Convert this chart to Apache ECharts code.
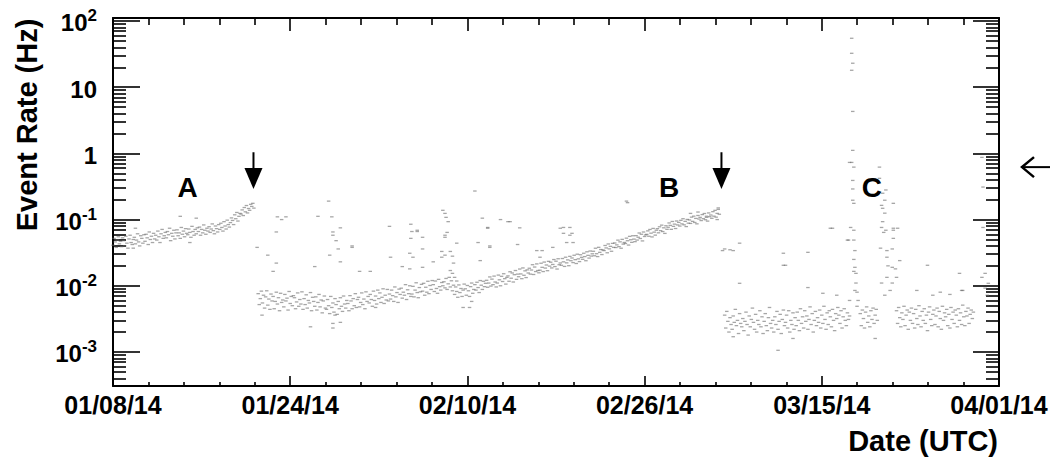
<!DOCTYPE html>
<html>
<head>
<meta charset="utf-8">
<script src="https://cdn.jsdelivr.net/npm/echarts@6/dist/echarts.min.js"></script>
<style>
html, body { margin: 0; padding: 0; background: #fff; }
#chart { width: 1053px; height: 457px; }
</style>
</head>
<body>
<div id="chart"></div>
<script>
// Detector event rate, 8 Jan - 1 Apr 2014. x = days since 2014-01-08 00:00 UTC.
const xTickLabels = ['01/08/14', '01/24/14', '02/10/14', '02/26/14', '03/15/14', '04/01/14'];
const xTickStepDays = 16.6;
const xSpanDays = 83;

const yTickValues = [1e-3, 1e-2, 1e-1, 1, 10, 100];
const yTickLabels = [['10', '-3'], ['10', '-2'], ['10', '-1'], ['1', ''], ['10', ''], ['10', '2']];

// Rates in mHz, one reading every 0.1 day, starting at the given day.
const binDays = 0.1;

const periodA_start = 0.0;
const periodA_mHz = [
  41,52,46,38,49,55,43,47,39,53,
  48,40,56,44,37,51,58,45,42,50,
  54,43,49,61,46,40,57,52,44,59,
  47,60,53,42,65,50,56,45,62,51,
  58,49,67,55,45,61,71,52,57,64,
  53,66,59,74,48,62,56,69,51,63,
  70,57,63,52,76,60,67,55,73,62,
  59,72,64,54,79,66,58,71,61,75,
  66,77,58,71,63,83,69,60,74,67,
  78,64,72,86,68,61,80,73,65,84,
  71,88,76,67,93,80,72,98,84,77,
  90,106,97,84,118,103,128,95,112,124,
  121,140,115,152,131,163,126,147,138,170,
  158,176,149
];

const periodB_start = 13.6;
const periodB_mHz = [
  7.6,5.2,6.4,8.3,
  5.5,7.2,4.6,6.8,8.4,5.1,6.3,4.4,7.5,5.9,
  6.9,4.5,5.8,8.0,5.3,6.6,4.2,7.7,5.6,6.1,
  4.8,7.4,5.9,6.5,4.3,8.2,5.4,6.9,5.0,7.1,
  6.6,4.5,5.7,7.8,4.9,6.2,5.3,8.1,4.4,6.4,
  5.2,7.3,4.6,6.0,5.5,7.9,4.2,6.7,5.8,4.9,
  6.8,4.3,5.6,7.4,4.8,6.1,3.9,5.9,7.0,4.6,
  4.4,6.2,5.0,3.8,6.9,4.7,5.5,4.0,6.4,5.2,
  3.7,5.8,4.5,6.6,4.9,4.1,7.0,5.3,4.6,6.0,
  5.4,4.2,7.1,5.9,4.5,6.4,5.0,7.6,4.7,6.2,
  6.7,4.8,5.6,7.8,5.2,6.3,4.5,8.1,5.8,6.9,
  5.5,7.4,6.2,4.9,8.3,6.0,7.0,5.3,8.6,6.4,
  7.8,5.6,6.7,9.0,5.4,7.2,6.1,8.8,5.9,7.5,
  6.3,8.6,7.1,5.8,9.6,6.8,7.9,5.6,8.9,7.4,
  9.2,6.5,8.0,7.2,10.4,6.2,8.7,7.6,10.0,6.9,
  7.5,9.8,6.8,8.6,11.1,7.9,6.6,9.4,8.1,10.5,
  8.3,10.9,7.2,9.5,8.0,11.7,7.6,10.1,8.8,12.0,
  10.4,8.2,11.8,9.1,7.7,12.5,9.7,8.6,11.2,10.0,
  11.5,9.3,12.9,8.8,10.7,13.4,9.6,11.9,8.4,10.2,
  7.4,9.6,8.2,6.7,10.3,7.9,9.1,6.9,8.6,10.6,
  9.0,7.2,10.1,8.4,6.9,9.7,11.0,7.7,8.8,10.4,
  8.6,11.3,9.4,7.9,12.0,10.2,8.8,11.7,9.7,10.9,
  12.1,9.5,11.0,13.6,9.9,12.6,10.4,14.0,11.4,9.6,
  11.0,14.5,12.3,10.0,13.9,11.6,15.2,12.8,10.6,13.4,
  14.1,11.7,16.3,13.0,15.6,11.4,14.7,17.0,12.5,15.0,
  13.7,17.9,15.1,12.8,18.6,14.4,16.8,13.3,17.4,15.6,
  18.4,15.0,17.3,20.8,14.8,19.2,16.4,21.4,17.0,15.7,
  17.2,21.9,19.0,16.4,22.8,18.5,20.6,16.9,23.4,19.8,
  22.7,18.6,21.0,24.9,19.5,23.5,17.9,25.6,20.8,22.1,
  20.4,25.8,23.0,19.6,27.0,22.2,24.6,20.1,27.8,23.9,
  26.3,22.4,28.9,24.8,21.7,30.0,25.5,23.2,29.4,26.9,
  25.1,31.0,27.6,23.9,32.6,28.8,26.2,33.5,28.1,30.4,
  33.2,28.4,36.9,30.5,27.6,38.1,32.0,35.3,29.6,34.8,
  34.0,40.6,37.3,31.5,42.8,36.1,39.4,33.2,43.7,38.0,
  44.3,37.8,41.5,48.9,39.0,46.1,36.9,50.2,42.6,45.1,
  43.5,52.4,47.9,41.2,55.8,49.6,45.3,57.0,50.7,46.4,
  57.2,49.0,54.1,62.7,51.8,60.0,47.6,64.9,55.5,58.6,
  59.8,67.5,56.0,70.9,62.3,54.7,73.5,64.6,58.2,69.0,
  72.9,63.1,77.8,68.0,82.4,65.9,75.1,61.8,80.6,71.3,
  76.5,88.9,81.7,71.2,93.6,79.0,85.4,73.3,95.2,83.0,
  90.6,79.8,97.4,86.1,103.0,83.2,94.0,78.4,100.5,88.3,
  98.7,87.5,108.8,94.0,112.6,90.4,104.1,86.2,115.3,101.9,
  108.0,96.6,118.9,103.2,123.5,99.4,112.4,94.8,126.0,110.5,
  117.2,104.5,131.7,112.6,137.9,108.8,124.0,142.5,120.3
];

const periodC1_start = 57.3;
const periodC1_mHz = [
  3.6,2.3,4.1,2.9,2.0,3.3,2.6,
  2.2,3.5,2.8,4.4,2.5,3.0,1.9,3.8,2.7,2.4,
  3.2,2.1,2.9,4.0,2.6,1.8,3.5,2.4,3.1,4.6,
  2.8,2.2,3.7,2.0,3.0,2.6,4.2,2.4,3.4,1.9,
  2.9,3.8,2.5,2.1,3.3,4.7,2.7,2.3,3.0,2.0,
  3.4,2.6,4.1,2.2,2.9,3.7,1.9,3.1,4.3,2.5,
  2.8,3.6,2.3,4.2,2.0,3.0,2.6,3.9,2.2,3.3,
  2.5,4.0,3.0,2.1,4.5,2.7,3.4,2.3,4.2,2.9,
  3.5,2.2,3.1,4.8,2.6,3.8,2.0,3.0,4.1,2.5,
  3.3,2.8,4.3,2.3,3.6,2.7,4.9,3.1,2.2,3.9,
  2.6,4.2,3.4,2.4,4.4,3.0,2.1,3.8,3.2,4.7,
  3.6,2.7,4.2,2.3,3.4,4.5,3.0,2.5,3.9,3.1,
  3.5
];

const periodC2_start = 70.0;
const periodC2_mHz = [3.8,2.5,4.3,3.2,2.3,4.0,4.8,2.8,3.5,2.4,4.2,3.1,4.6,2.7,3.6,4.4,3.0];

const periodC3_start = 73.4;
const periodC3_mHz = [
  4.2,2.7,4.7,3.3,2.4,3.9,
  3.1,4.9,2.5,3.6,4.3,2.2,4.0,3.0,4.6,2.7,
  3.8,2.3,4.4,3.2,2.6,5.0,3.5,2.4,4.1,3.0,
  4.5,2.7,3.6,2.1,4.0,4.8,3.1,2.5,3.7,4.3,
  2.6,3.5,4.6,2.4,4.1,3.2,2.2,4.9,3.0,3.9,
  3.4,4.4,2.5,3.7,2.3,4.7,3.1,4.0,2.7,4.3,
  3.6,2.4,4.5,3.0,3.9,2.6,5.1,3.4,2.5,4.1,
  3.5,4.6,2.7,3.7,4.3,3.2,4.0
];

// Isolated readings [day, Hz]: bursts and scattered high/low rates.
const scatterHz = [
  [1.9,0.037],[2.1,0.074],[6.3,0.112],[7.2,0.045],[7.8,0.105],
  [13.5,0.038],[13.96,0.0036],[14.5,0.029],[15.0,0.0165],[15.3,0.065],[15.3,0.022],
  [15.4,0.11],[15.8,0.10],[16.2,0.11],[18.5,0.0024],[18.9,0.0195],[19.2,0.112],
  [20.2,0.19],[20.3,0.029],[20.5,0.11],[20.6,0.065],[20.6,0.058],[20.6,0.0027],[20.6,0.0023],
  [20.8,0.0036],[20.9,0.048],[21.1,0.036],[21.3,0.075],[21.3,0.023],[21.3,0.0028],
  [22.4,0.038],[22.4,0.040],[23.1,0.0165],[24.1,0.0165],[24.6,0.0047],
  [25.9,0.079],[26.0,0.027],[27.1,0.0195],[27.8,0.031],[27.8,0.018],[27.9,0.085],[27.9,0.052],
  [28.0,0.066],[28.1,0.027],[28.5,0.066],[28.5,0.069],[29.0,0.054],[29.0,0.036],[29.0,0.019],
  [30.0,0.023],[30.8,0.033],[30.8,0.027],[30.9,0.138],[31.1,0.124],[31.1,0.054],[31.1,0.058],
  [31.1,0.029],[31.2,0.108],[31.3,0.064],[31.4,0.093],[31.6,0.033],[31.6,0.017],[31.8,0.028],
  [31.8,0.0154],[31.9,0.022],[32.0,0.0134],[32.2,0.0118],[32.2,0.044],[32.8,0.0047],
  [33.4,0.0047],[33.6,0.0058],[33.9,0.27],[34.2,0.045],[34.4,0.024],[34.6,0.105],
  [35.1,0.074],[35.1,0.076],[35.3,0.040],[35.3,0.038],[36.3,0.10],[37.0,0.093],[37.2,0.093],
  [37.9,0.042],[38.1,0.075],[39.7,0.034],[40.0,0.027],[40.2,0.034],[41.2,0.038],
  [41.9,0.074],[42.2,0.076],[42.2,0.062],[42.5,0.045],[42.8,0.076],[42.8,0.058],[43.0,0.062],
  [43.1,0.045],[48.1,0.19],[48.2,0.18],[54.1,0.124],[54.8,0.13],[55.6,0.108],[56.6,0.10],[56.7,0.15],
  [57.1,0.034],[57.3,0.036],[57.8,0.035],[58.1,0.034],[58.1,0.0017],[58.7,0.044],[58.7,0.0109],
  [62.3,0.00106],[62.8,0.031],[62.8,0.0204],[63.0,0.0204],[63.7,0.0016],[65.1,0.032],[65.1,0.0094],
  [66.5,0.0077],[67.2,0.074],[67.4,0.074],[67.8,0.0072],[68.8,0.049],[69.0,0.0060],
  [69.0,0.73],[68.9,0.049],[69.2,54.8],[69.2,32.5],[69.3,23],[69.2,18],[69.3,4.3],[69.3,1.11],
  [69.2,0.73],[69.4,0.62],[69.3,0.39],[69.3,0.29],[69.3,0.196],[69.4,0.176],[69.4,0.069],
  [69.1,0.076],[69.4,0.049],[69.5,0.034],[69.4,0.025],[69.5,0.019],[69.4,0.0165],[69.6,0.0154],
  [69.6,0.011],[69.7,0.008],[69.5,0.0085],[69.8,0.0060],[69.7,0.0049],
  [71.4,0.0016],[71.8,0.62],[71.8,0.42],[71.9,0.037],[72.0,0.164],[72.0,0.076],[72.0,0.011],
  [72.1,0.25],[72.1,0.148],[72.1,0.093],[72.2,0.064],[72.3,0.196],[72.3,0.125],[72.3,0.0072],
  [72.4,0.28],[72.4,0.069],[72.5,0.034],[72.5,0.027],[72.5,0.0134],[72.6,0.020],[72.8,0.0085],
  [73.0,0.036],[73.0,0.019],[73.0,0.011],[73.1,0.176],[73.1,0.069],[73.1,0.074],[73.1,0.052],
  [73.3,0.018],[73.4,0.0134],[73.5,0.074],[73.7,0.024],
  [75.3,0.0085],[76.3,0.0204],[76.8,0.0072],[77.5,0.0080],[78.4,0.0074],[79.3,0.0154],
  [79.5,0.0085],[79.6,0.0085],[81.4,0.87],[81.4,0.0134],[81.5,0.31],[81.5,0.076],[81.7,0.0154],
  [81.7,0.0092],[81.9,0.0072],[82.0,0.0109]
];

// Labels and arrows drawn on the data, in [day, Hz].
const periodLabels = [['A', 7.0, 0.30], ['B', 52.1, 0.30], ['C', 71.1, 0.30]];
const arrowDays = [13.16, 57.0];
const arrowTopHz = 1.04, arrowTipHz = 0.29;
const sideArrowHz = 0.62;

function binned(start, list) {
  return list.map((v, i) => [start + i * binDays, v / 1000]);
}
const points = [].concat(
  binned(periodA_start, periodA_mHz),
  binned(periodB_start, periodB_mHz),
  binned(periodC1_start, periodC1_mHz),
  binned(periodC2_start, periodC2_mHz),
  binned(periodC3_start, periodC3_mHz),
  scatterHz
);

const FONT = '"Liberation Sans", Arial, Helvetica, sans-serif';
const yMin = Math.pow(10, -3.514), yMax = Math.pow(10, 2.045);

const yMinorValues = [];
for (let e = -4; e <= 1; e++) {
  for (let m = 2; m <= 9; m++) {
    const v = m * Math.pow(10, e);
    if (v > yMin && v < yMax) yMinorValues.push(v);
  }
}

function yLabel(v) {
  let best = 0;
  yTickValues.forEach((t, i) => { if (Math.abs(Math.log10(t) - Math.log10(v)) < 0.01) best = i; });
  const [base, sup] = yTickLabels[best];
  return sup ? '{b|' + base + '}{s|' + sup + '}' : '{b|' + base + '}';
}

function logAxis(extra) {
  return Object.assign({
    type: 'log', logBase: 10, min: yMin, max: yMax,
    splitLine: { show: false }, minorTick: { show: false }, minorSplitLine: { show: false },
    axisLine: { show: false, onZero: false },
    axisLabel: { show: false }
  }, extra);
}

const tickStyle = { color: '#000', width: 1.6 };

const option = {
  animation: false,
  backgroundColor: '#fff',
  grid: { left: 113, right: 54, top: 18, bottom: 71, containLabel: false },
  xAxis: [
    {
      type: 'value', position: 'bottom', min: 0, max: xSpanDays, interval: xTickStepDays,
      axisLine: { show: true, onZero: false, lineStyle: { color: '#000', width: 2 } },
      axisTick: { show: true, inside: true, length: 10, lineStyle: tickStyle },
      minorTick: { show: true, splitNumber: 5, length: 4, lineStyle: tickStyle },
      splitLine: { show: false }, minorSplitLine: { show: false },
      axisLabel: {
        show: true, margin: 6, color: '#000', fontFamily: FONT, fontWeight: 'bold', fontSize: 25,
        showMinLabel: true, showMaxLabel: true,
        formatter: v => xTickLabels[Math.round(v / xTickStepDays)] || ''
      }
    },
    {
      type: 'value', position: 'top', min: 0, max: xSpanDays, interval: xTickStepDays,
      axisLine: { show: true, onZero: false, lineStyle: { color: '#000', width: 2 } },
      axisTick: { show: true, inside: true, length: 13, lineStyle: tickStyle },
      minorTick: { show: true, splitNumber: 5, length: 7, lineStyle: tickStyle },
      splitLine: { show: false }, minorSplitLine: { show: false },
      axisLabel: { show: false }
    }
  ],
  yAxis: [
    logAxis({
      position: 'left',
      axisLine: { show: true, onZero: false, lineStyle: { color: '#000', width: 2 } },
      axisTick: { show: true, inside: true, length: 27, customValues: yTickValues, lineStyle: tickStyle },
      axisLabel: {
        show: true, customValues: yTickValues, margin: 16, color: '#000',
        formatter: yLabel,
        rich: {
          b: { fontFamily: FONT, fontWeight: 'bold', fontSize: 24, lineHeight: 28, color: '#000', verticalAlign: 'bottom' },
          s: { fontFamily: FONT, fontWeight: 'bold', fontSize: 17, lineHeight: 17, color: '#000', verticalAlign: 'top' }
        }
      }
    }),
    logAxis({
      position: 'left',
      axisTick: { show: true, inside: true, length: 13, customValues: yMinorValues, lineStyle: tickStyle }
    }),
    logAxis({
      position: 'right',
      axisLine: { show: true, onZero: false, lineStyle: { color: '#000', width: 2 } },
      axisTick: { show: true, inside: true, length: 26, customValues: yTickValues, lineStyle: tickStyle }
    }),
    logAxis({
      position: 'right',
      axisTick: { show: true, inside: true, length: 13, customValues: yMinorValues, lineStyle: tickStyle }
    })
  ],
  series: [{
    type: 'scatter', xAxisIndex: 0, yAxisIndex: 0, silent: true,
    symbol: 'rect', symbolSize: [3.5, 1.3],
    itemStyle: { color: '#6a6a6a', opacity: 0.6 },
    data: points
  }]
};

const chart = echarts.init(document.getElementById('chart'), null, { renderer: 'svg', width: 1053, height: 457 });
chart.setOption(option);

function px(day, hz) {
  return chart.convertToPixel({ xAxisIndex: 0, yAxisIndex: 0 }, [day, hz]);
}

const graphics = [];
graphics.push({
  type: 'text', x: 27, y: 125, rotation: Math.PI / 2,
  style: { text: 'Event Rate (Hz)', font: 'bold 29px ' + FONT, fill: '#000', align: 'center', verticalAlign: 'middle' }
});
graphics.push({
  type: 'text', x: 998, y: 441,
  style: { text: 'Date (UTC)', font: 'bold 29px ' + FONT, fill: '#000', align: 'right', verticalAlign: 'middle' }
});
periodLabels.forEach(([t, d, v]) => {
  const p = px(d, v);
  graphics.push({
    type: 'text', x: p[0], y: p[1],
    style: { text: t, font: 'bold 28px ' + FONT, fill: '#000', align: 'center', verticalAlign: 'middle' }
  });
});
arrowDays.forEach(d => {
  const top = px(d, arrowTopHz), tip = px(d, arrowTipHz);
  const headH = 21, headW = 9;
  graphics.push({
    type: 'line', shape: { x1: top[0], y1: top[1], x2: tip[0], y2: tip[1] - headH + 2 },
    style: { stroke: '#000', lineWidth: 2 }
  });
  graphics.push({
    type: 'polygon', shape: { points: [[tip[0] - headW, tip[1] - headH], [tip[0] + headW, tip[1] - headH], [tip[0], tip[1]]] },
    style: { fill: '#000' }
  });
});
{
  const a = px(xSpanDays, sideArrowHz);
  const y = a[1], x0 = 1022, x1 = 1050;
  graphics.push({ type: 'line', shape: { x1: x0, y1: y, x2: x1, y2: y }, style: { stroke: '#000', lineWidth: 2 } });
  graphics.push({ type: 'polyline', shape: { points: [[x0 + 12, y - 10], [x0, y], [x0 + 12, y + 10]] }, style: { stroke: '#000', lineWidth: 2.5, fill: null } });
}
chart.setOption({ graphic: graphics });
</script>
</body>
</html>
